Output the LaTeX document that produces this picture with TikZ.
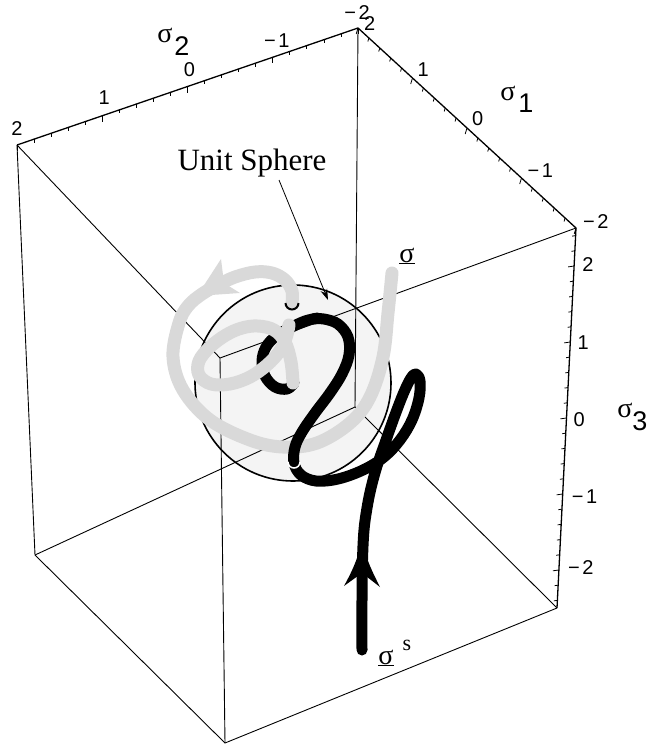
\documentclass[tikz,border=0pt]{standalone}
\usepackage{fontspec}
\setmainfont{Liberation Serif}
\newfontfamily\numfont{Liberation Sans}
\usetikzlibrary{arrows.meta,calc}
\definecolor{spherefill}{gray}{0.955}
\definecolor{trailgray}{gray}{0.85}
\newcommand{\mneg}{−\kern2.5pt}
\begin{document}
\begin{tikzpicture}[x=1pt,y=-1pt,
  edge/.style={line width=0.9pt, black},
  axisedge/.style={line width=1.3pt, black, line join=miter},
  tickmark/.style={line width=0.8pt, black},
  num/.style={font=\numfont\fontsize{20}{20}\selectfont, inner sep=0pt},
  sig/.style={font=\fontsize{28}{28}\selectfont, inner sep=0pt, anchor=base},
  sub/.style={font=\numfont\fontsize{27}{27}\selectfont, inner sep=0pt, anchor=base},
  blackcurve/.style={line width=11pt, black, line cap=round, line join=round},
  graycurve/.style={line width=13pt, trailgray, line cap=round, line join=round},
]
\useasboundingbox (0,0) rectangle (648,753);
% box vertices
\coordinate (A) at (17,145);
\coordinate (B) at (358,28);
\coordinate (C) at (576,228);
\coordinate (D) at (220,358);
\coordinate (E) at (35,555);
\coordinate (F) at (225,743);
\coordinate (G) at (557,608);
\coordinate (H) at (355,407);
\coordinate (O) at (293,383);
% sphere fill
\fill[spherefill] (O) circle[radius=98];
% box edges
\draw[edge] (A) -- (D) -- (C);
\draw[edge] (D) -- (F);
\draw[edge] (A) -- (E) -- (F) -- (G);
\draw[edge] (E) -- (H) -- (G);
\draw[edge] (B) -- (H);
\draw[axisedge] (A) -- (B) -- (C) -- (G);
% ticks sigma2
\foreach \k in {0,...,20}{
  \pgfmathsetmacro{\tpos}{\k/20}
  \pgfmathsetmacro{\tl}{ifthenelse(mod(\k,5)==0,6,3.5)}
  \draw[tickmark] ($(A)!\tpos!(B)$) -- ++(0,\tl);
}
% ticks sigma1
\foreach \k in {0,...,20}{
  \pgfmathsetmacro{\tpos}{\k/20}
  \pgfmathsetmacro{\tl}{ifthenelse(mod(\k,5)==0,6,3.5)}
  \draw[tickmark] ($(B)!\tpos!(C)$) -- ++(-0.3*\tl,\tl);
}
% ticks sigma3
\foreach \k in {0,...,24}{
  \pgfmathsetmacro{\tpos}{0.02+0.04*\k}
  \pgfmathsetmacro{\tl}{ifthenelse(mod(\k,5)==2,6,3.5)}
  \draw[tickmark] ($(C)!\tpos!(G)$) -- ++(-\tl,0.15*\tl);
}
% tick labels sigma2
\node[num, anchor=south] (a2) at ($(A)+(0,-9)$) {2};
\node[num, anchor=south] (a1) at ($(A)!0.25!(B)+(2,-11)$) {1};
\node[num, anchor=south] (a0) at ($(A)!0.5!(B)+(2,-10)$) {0};
\node[num, anchor=south] (am1) at ($(A)!0.75!(B)+(4,-10)$) {\mneg 1};
\node[num, anchor=south] (am2) at ($(B)+(-1,-8)$) {\mneg 2};
% tick labels sigma1
\node[num, anchor=west] (b2) at ($(B)+(6,-4)$) {2};
\node[num, anchor=west] (b1) at ($(B)!0.25!(C)+(5,-8)$) {1};
\node[num, anchor=west] (b0) at ($(B)!0.5!(C)+(5,-9)$) {0};
\node[num, anchor=west] (bm1) at ($(B)!0.75!(C)+(6,-7)$) {\mneg 1};
\node[num, anchor=west] (bm2) at ($(C)+(7,-6)$) {\mneg 2};
% tick labels sigma3
\node[num, anchor=west] (c2) at ($(C)!0.1!(G)+(8,-1)$) {2};
\node[num, anchor=west] (c1) at ($(C)!0.3!(G)+(7,1)$) {1};
\node[num, anchor=west] (c0) at ($(C)!0.5!(G)+(7,2)$) {0};
\node[num, anchor=west] (cm1) at ($(C)!0.7!(G)+(9,3)$) {\mneg 1};
\node[num, anchor=west] (cm2) at ($(C)!0.9!(G)+(9,-2)$) {\mneg 2};
% axis names
\node[sig] (s2) at (165,42) {σ};
\node[sub] (s2i) at (182,55) {2};
\node[sig] (s1) at (508,100) {σ};
\node[sub] (s1i) at (526,112) {1};
\node[sig] (s3) at (625,417) {σ};
\node[sub] (s3i) at (640,430) {3};
% sphere outline
\draw[line width=1.6pt] (O) circle[radius=98];
% Unit sphere label and pointer
\node[font=\fontsize{31}{31}\selectfont, inner sep=0pt] (usl) at (252,163) {Unit Sphere};
\coordinate (ptrs) at (279,180);
\coordinate (ptre) at (328,300);
\draw[line width=0.8pt, -{Stealth[length=11pt,width=7pt]}] (ptrs) -- (ptre);
% black hook (under gray)
\draw[blackcurve] plot[smooth, tension=0.6] coordinates {(318,318) (305,321) (290,328) (276,336) (266,347) (262,361) (265,376) (275,387) (287,389) (294,383)};
% gray inner loop
\draw[graycurve] plot[smooth, tension=0.6] coordinates {(293,383) (291,362) (285,342) (274,330) (258,326) (242,328) (226,335) (210,347) (199,361) (199,375) (211,384) (230,384) (250,377) (267,365) (279,352) (286,338) (289,325)};
% gray outer loop
\draw[graycurve] plot[smooth, tension=0.6] coordinates {(292,303) (292,291) (285,280) (272,273) (255,272) (235,277) (218,285) (202,294) (188,306) (179,323) (173,357) (183,390) (210,420) (250,440) (283,447) (317,443) (350,423) (370,397) (383,357) (388,313) (392,273)};
% gray arrowhead
\fill[trailgray] (197,296) -- (221,259) -- (224,283) -- (240,293) -- cycle;
% black cap outline at gray end
\draw[line width=2pt, black] (285.5,303) arc[start angle=180, end angle=0, radius=6.5];
% main black curve
\draw[blackcurve] plot[smooth, tension=0.6] coordinates {(362,650) (362,600) (362.5,560) (364,530) (367,508) (371,488) (377,466) (385,443) (395,415) (404,392) (411,378) (416,374) (420,381) (419,398) (412,420) (400,440) (384,457) (363,470) (338,479) (316,481) (301,475) (294,463) (295,447) (302,432) (315,413) (330,393) (342,374) (349,355) (348,337) (338,324) (324,319) (313,319)};
% black arrowhead
\fill[black] (362,540) .. controls (358,560) and (350,575) .. (344,586) -- (362,573) -- (380,587) .. controls (374,575) and (366,560) .. (362,540) -- cycle;
% white cap outline
\draw[line width=1.5pt, white] (288,462) arc[start angle=180, end angle=0, radius=6];
% trajectory labels
\node[sig] (cur) at (407,262) {\underline{σ}};
\node[sig] (start) at (386,664) {\underline{σ}};
\node[inner sep=0pt, anchor=base, font=\fontsize{22}{22}\selectfont] (starts) at (407,650) {s};
\end{tikzpicture}
\end{document}
